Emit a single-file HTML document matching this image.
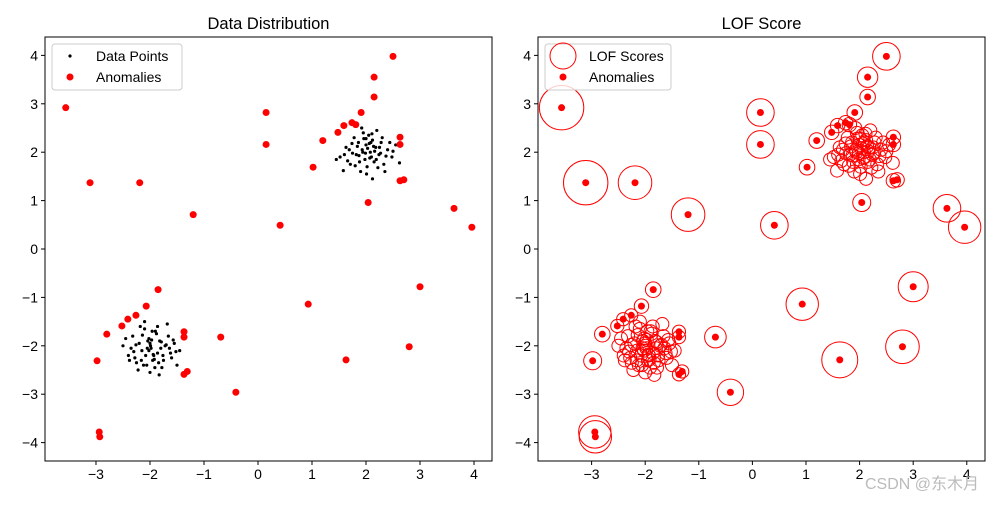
<!DOCTYPE html>
<html><head><meta charset="utf-8">
<style>
body{margin:0;background:#fff;}
svg text{font-family:"Liberation Sans","DejaVu Sans",sans-serif;}
</style></head>
<body>
<svg id="chart" width="1000" height="500" xmlns="http://www.w3.org/2000/svg"></svg>
<script>
// anomalies
const anomX=[-3.56,-3.11,-2.19,-1.20,0.15,0.15,0.41,1.02,1.20,1.48,1.59,1.74,1.81,1.91,2.15,2.15,2.50,2.04,2.63,2.63,2.63,2.70,3.63,3.96,3.00,0.93,1.63,2.80,-0.41,-0.69,-1.37,-1.37,-1.31,-1.37,-1.85,-2.07,-2.26,-2.41,-2.52,-2.80,-2.98,-2.94,-2.93];
const anomY=[2.92,1.37,1.37,0.71,2.82,2.16,0.49,1.69,2.24,2.41,2.55,2.61,2.57,2.82,3.55,3.14,3.98,0.96,2.31,2.16,1.41,1.43,0.84,0.45,-0.78,-1.14,-2.29,-2.02,-2.96,-1.82,-1.71,-1.82,-2.53,-2.59,-0.84,-1.18,-1.37,-1.45,-1.59,-1.76,-2.31,-3.78,-3.88];
const anomScore=[3.7,3.7,2.8,2.8,2.3,2.3,2.3,1.3,1.3,1.2,1.2,1.2,1.2,1.3,1.7,1.3,2.3,1.5,1.2,1.2,1.2,1.2,2.3,2.7,2.5,2.7,3.0,2.8,2.2,1.8,1.1,1.1,1.1,1.1,1.3,1.2,1.1,1.1,1.1,1.3,1.5,2.7,2.7];
// cluster points
const xA=[1.52,1.63,1.71,1.78,1.82,1.86,1.9,1.93,1.95,1.98,2.0,2.02,2.05,2.08,2.1,2.12,2.15,2.18,2.2,2.24,2.28,2.33,2.4,2.48,2.55,2.62,1.45,1.58,1.69,1.75,1.84,1.88,1.96,2.01,2.06,2.11,2.16,2.22,2.3,2.37,2.12,1.92,2.03,1.8,2.25,1.66,2.44,2.07,1.99,2.14,1.74,2.35,1.87,2.19,2.0,1.94,2.09,2.27,1.6,2.5];
const yA=[1.9,2.1,1.75,2.3,1.95,2.2,1.6,2.05,2.4,1.85,2.15,1.7,2.35,2.0,1.9,2.25,1.8,2.1,2.45,1.95,2.2,1.75,2.05,1.9,2.15,1.78,1.85,1.62,2.05,1.98,2.12,1.8,2.28,1.55,2.18,2.38,2.02,1.68,2.3,1.92,1.45,2.5,2.08,1.72,2.1,1.82,2.2,1.88,1.98,2.12,2.18,1.6,1.93,1.85,2.28,2.0,2.2,1.98,1.95,2.02];
const xB=[-2.5,-2.4,-2.32,-2.25,-2.2,-2.15,-2.1,-2.06,-2.02,-1.98,-1.95,-1.9,-1.86,-1.82,-1.78,-1.72,-1.66,-1.6,-1.55,-1.5,-1.45,-2.45,-2.35,-2.28,-2.18,-2.12,-2.04,-2.0,-1.93,-1.88,-1.8,-1.75,-1.68,-1.62,-1.57,-2.22,-2.08,-1.96,-1.84,-1.7,-2.3,-2.14,-1.99,-1.91,-1.76,-2.38,-2.02,-1.86,-1.64,-2.26,-2.1,-1.94,-1.79,-1.52,-2.16,-1.97,-1.83,-2.05,-1.92,-2.0];
const yB=[-2.0,-2.2,-1.8,-2.35,-1.95,-2.1,-1.65,-2.4,-1.85,-2.05,-2.3,-1.7,-2.15,-1.9,-2.45,-2.0,-1.8,-2.25,-1.95,-2.4,-2.1,-1.85,-2.05,-2.25,-1.6,-2.4,-1.9,-2.55,-2.2,-1.75,-2.05,-2.3,-1.55,-2.15,-1.88,-2.5,-2.2,-1.7,-2.35,-1.98,-2.12,-1.78,-2.0,-2.45,-2.2,-2.3,-2.1,-1.6,-2.05,-1.98,-1.5,-2.18,-1.92,-2.12,-2.3,-1.88,-2.6,-2.05,-2.28,-1.95];
const xTicks=[-3,-2,-1,0,1,2,3,4];
const yTicks=[4,3,2,1,0,-1,-2,-3,-4];

const NS="http://www.w3.org/2000/svg";
const svg=document.getElementById('chart');
function mk(tag,attrs,parent,txt){const e=document.createElementNS(NS,tag);for(const k in attrs)e.setAttribute(k,attrs[k]);if(txt!==undefined)e.textContent=txt;(parent||svg).appendChild(e);return e;}

function panel(x0,x1,xmin,xmax,title,right){
  const y0=37,y1=461,ymin=-4.38,ymax=4.38;
  const sx=v=>x0+(v-xmin)/(xmax-xmin)*(x1-x0);
  const sy=v=>y1-(v-ymin)/(ymax-ymin)*(y1-y0);
  const g=mk('g',{});
  
  
  const t=mk('text',{x:(x0+x1)/2,y:29,'text-anchor':'middle','font-size':16.5},g,title);
  
  
  xTicks.forEach(v=>{const X=sx(v);mk('line',{x1:X,x2:X,y1:y1,y2:y1+4,stroke:'#000'},g);
    const l=mk('text',{x:X,y:y1+18,'text-anchor':'middle','font-size':14},g,v<0?'\u2212'+(-v):String(v));
    
    });
  yTicks.forEach(v=>{const Y=sy(v);mk('line',{x1:x0-4,x2:x0,y1:Y,y2:Y,stroke:'#000'},g);
    const l=mk('text',{x:x0-7,y:Y+5,'text-anchor':'end','font-size':14},g,v<0?'\u2212'+(-v):String(v));
    
    });
  const cx=[...xA,...xB], cy=[...yA,...yB];
  if(!right){
    cx.forEach((v,i)=>{const c=mk('circle',{cx:sx(v),cy:sy(cy[i]),r:1.6,fill:'#000'},g);
      
      });
  } else {
    cx.forEach((v,i)=>{const c=mk('circle',{cx:sx(v),cy:sy(cy[i]),r:6.5,fill:'none',stroke:'red','stroke-width':1},g);
      
      });
    anomX.forEach((v,i)=>{const c=mk('circle',{cx:sx(v),cy:sy(anomY[i]),r:6*anomScore[i],fill:'none',stroke:'red','stroke-width':1},g);
      
      });
  }
  anomX.forEach((v,i)=>{const c=mk('circle',{cx:sx(v),cy:sy(anomY[i]),r:3.5,fill:'red'},g);
    
    });
  mk('rect',{x:x0,y:y0,width:x1-x0,height:y1-y0,fill:'none',stroke:'#000','stroke-width':1},g);
  // legend
  const lg=mk('g',{},g);
  
  
  const lx=x0+7;
  mk('rect',{x:lx,y:44,width:right?126:130,height:46,rx:3,fill:'#fff','fill-opacity':0.8,stroke:'#ccc'},lg);
  if(right){mk('circle',{cx:lx+18,cy:56,r:13,fill:'none',stroke:'red'},lg);}
  else{mk('circle',{cx:lx+18,cy:56,r:1.6,fill:'#000'},lg);}
  mk('circle',{cx:lx+18,cy:77,r:3.5,fill:'red'},lg);
  mk('text',{x:lx+44,y:61,'font-size':14},lg,right?'LOF Scores':'Data Points');
  mk('text',{x:lx+44,y:82,'font-size':14},lg,'Anomalies');
}
panel(45,492,-3.944,4.333,'Data Distribution',false);
panel(538,985,-4.0,4.34,'LOF Score',true);
const wm=mk('text',{x:865,y:489,'font-size':16,fill:'#bbb','font-family':'"Liberation Sans","Noto Sans CJK SC",sans-serif'},svg,'CSDN @东木月');


</script>
</body></html>
